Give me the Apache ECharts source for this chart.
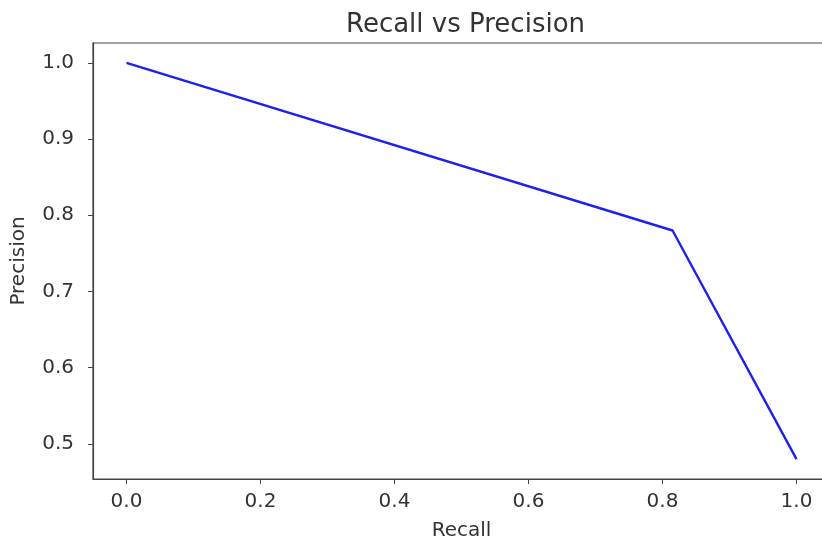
<!DOCTYPE html>
<html>
<head>
<meta charset="utf-8">
<script src="https://cdn.jsdelivr.net/npm/echarts@6/dist/echarts.min.js"></script>
<style>
  html,body{margin:0;padding:0;background:#fff;}
  #chart{width:822px;height:544px;}
</style>
</head>
<body>
<div id="chart"></div>
<script>
// recall / precision points
var recall = [0.0, 0.815, 1.0];
var precision = [1.0, 0.78, 0.48];
var xTicks = [0.0, 0.2, 0.4, 0.6, 0.8, 1.0];
var yTicks = [0.5, 0.6, 0.7, 0.8, 0.9, 1.0];

var chart = echarts.init(document.getElementById('chart'));
var font = 'DejaVu Sans';
var ink = '#333';

var pts = recall.map(function(r, i){ return [r, precision[i]]; });

var option = {
  animation: false,
  backgroundColor: '#fff',
  title: {
    text: 'Recall vs Precision',
    left: 341,
    top: 7,
    textStyle: {fontFamily: font, fontSize: 26, fontWeight: 'normal', color: ink}
  },
  grid: {
    left: 93, right: -8, top: 43, bottom: 65,
    outerBoundsMode: 'none',
    containLabel: false,
    show: true, borderColor: '#444', borderWidth: 1.2
  },
  xAxis: {
    type: 'value',
    min: -0.05, max: 1.05,
    name: 'Recall',
    nameLocation: 'middle',
    nameGap: 42,
    nameTextStyle: {fontFamily: font, fontSize: 20, color: ink},
    axisLine: {show: true, onZero: false, lineStyle: {color: '#444', width: 1.2}},
    axisTick: {show: true, inside: false, length: 5, lineStyle: {color: '#444'}, customValues: xTicks},
    axisLabel: {
      fontFamily: font, fontSize: 20, color: ink, margin: 13,
      customValues: xTicks,
      formatter: function(v){ return v.toFixed(1); }
    },
    splitLine: {show: false}
  },
  yAxis: {
    type: 'value',
    min: 0.454, max: 1.026,
    name: 'Precision',
    nameLocation: 'middle',
    nameGap: 64,
    nameTextStyle: {fontFamily: font, fontSize: 20, color: ink},
    axisLine: {show: true, onZero: false, lineStyle: {color: '#444', width: 1.2}},
    axisTick: {show: true, inside: false, length: 5, lineStyle: {color: '#444'}, customValues: yTicks},
    axisLabel: {
      fontFamily: font, fontSize: 20, color: ink, margin: 19,
      customValues: yTicks,
      formatter: function(v){ return v.toFixed(1); }
    },
    splitLine: {show: false}
  },
  series: [{
    type: 'line',
    data: pts,
    symbol: 'none',
    lineStyle: {color: '#2020ee', width: 2.4}
  }]
};
chart.setOption(option);
</script>
</body>
</html>
